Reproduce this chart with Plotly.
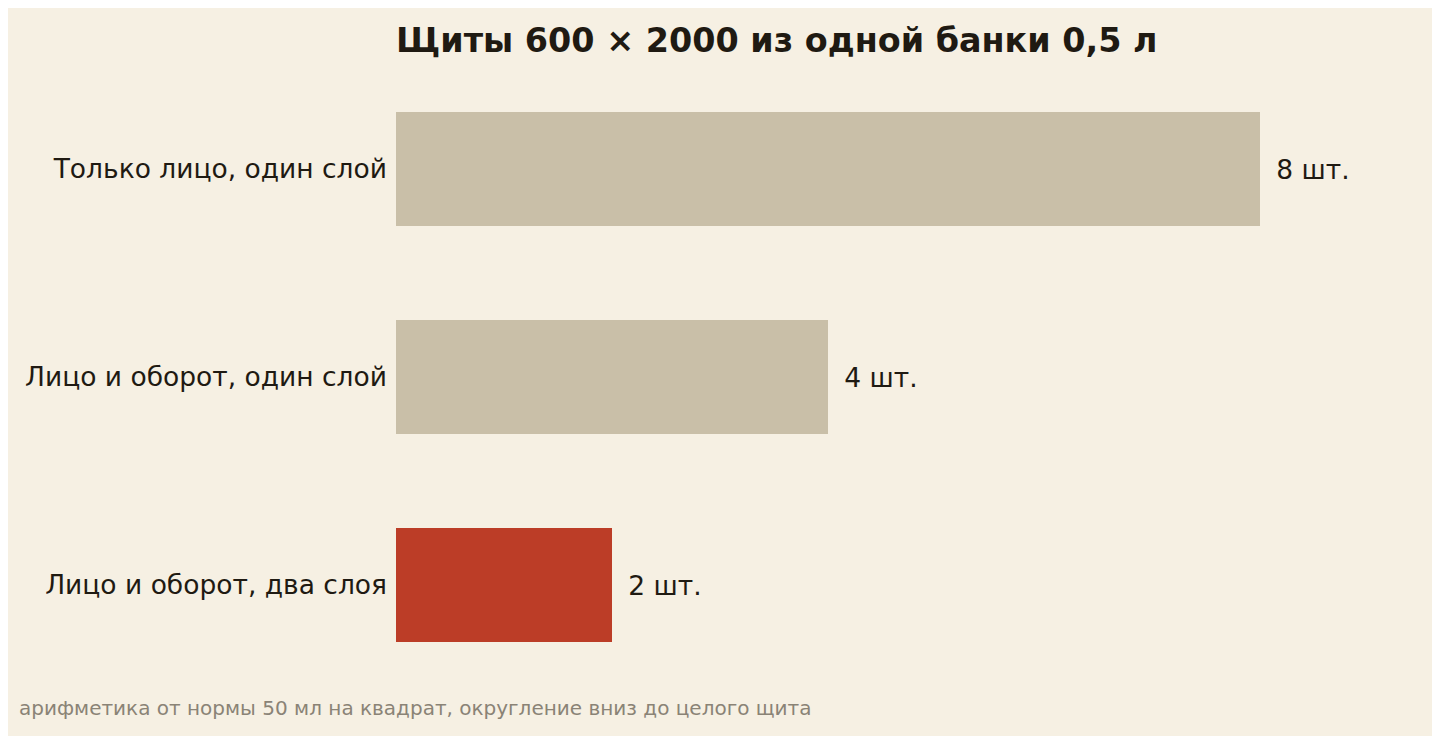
import plotly.graph_objects as go

categories = ["Только лицо, один слой", "Лицо и оборот, один слой", "Лицо и оборот, два слоя"]
values = [8, 4, 2]
labels = ["\u20028 шт.", "\u20024 шт.", "\u20022 шт."]
colors = ["#c9bfa8", "#c9bfa8", "#bc3d27"]

OFF = 8  # page body margin offset

fig = go.Figure(go.Bar(
    x=values, y=categories, orientation="h",
    marker=dict(color=colors, line=dict(width=0)),
    text=labels, textposition="outside", cliponaxis=False,
    textfont=dict(size=26.5, color="#1f1a12", family="DejaVu Sans"),
    width=0.548,
))
fig.update_layout(
    width=1440, height=736,
    paper_bgcolor="#f6f0e3", plot_bgcolor="#f6f0e3",
    margin=dict(l=396 - OFF, r=72 + OFF, t=65 - OFF, b=47 + OFF),
    font=dict(family="DejaVu Sans", color="#1f1a12"),
    title=dict(text="<b>Щиты 600 × 2000 из одной банки 0,5 л</b>",
               x=(396 - OFF) / 1440, xanchor="left", y=1 - (40 - OFF) / 736, yanchor="middle",
               font=dict(size=33.4, color="#1f1a12")),
    xaxis=dict(range=[0, 9], visible=False),
    yaxis=dict(autorange="reversed", tickfont=dict(size=26.5, color="#1f1a12"),
               ticks="", showgrid=False, showline=False, ticklabelstandoff=8),
    showlegend=False,
    annotations=[dict(text="арифметика от нормы 50 мл на квадрат, округление вниз до целого щита",
                      xref="paper", yref="paper", x=-379/972, y=-(708-689)/624,
                      xanchor="left", yanchor="middle", showarrow=False,
                      font=dict(size=20, color="#8a8376"))],
)
fig.write_html("out.html")
